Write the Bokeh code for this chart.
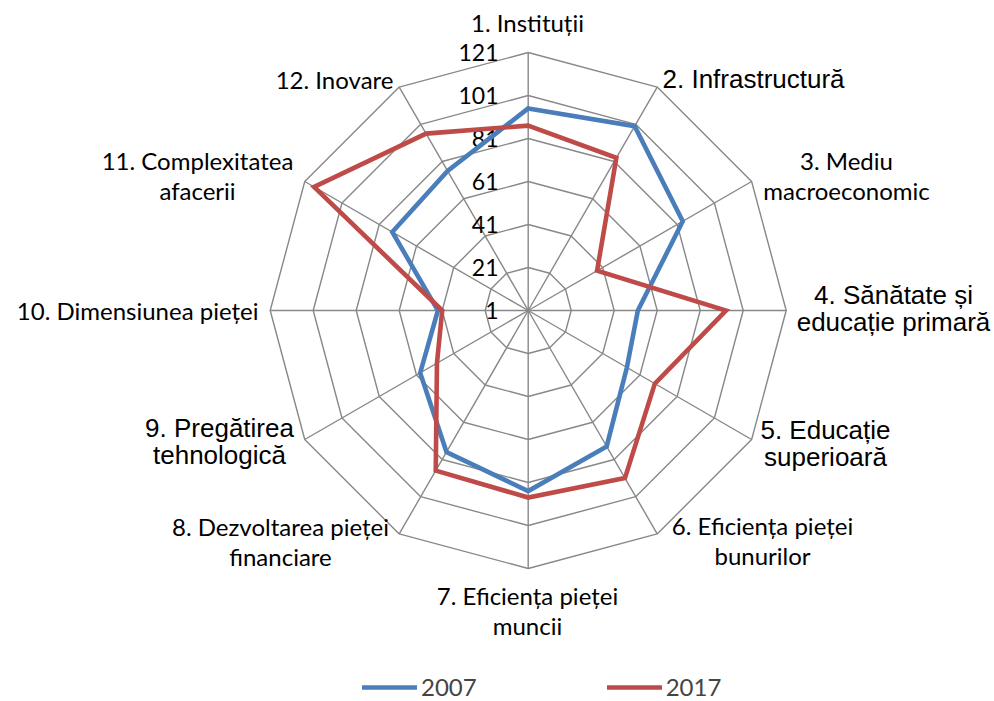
import numpy as np
from bokeh.plotting import figure
from bokeh.models import Range1d, Legend, LegendItem
from bokeh.core.properties import value
from bokeh.embed import file_html
from bokeh.resources import INLINE

# ---------------- data ----------------
categories = [
    "1. Instituții",
    "2. Infrastructură",
    "3. Mediu\nmacroeconomic",
    "4. Sănătate și\neducație primară",
    "5. Educație\nsuperioară",
    "6. Eficiența pieței\nbunurilor",
    "7. Eficiența pieței\nmuncii",
    "8. Dezvoltarea pieței\nfinanciare",
    "9. Pregătirea\ntehnologică",
    "10. Dimensiunea pieței",
    "11. Complexitatea\nafacerii",
    "12. Inovare",
]
values_2007 = [95, 100, 84, 52, 54, 74, 85, 77, 59, 43, 74, 76]
values_2017 = [87, 83, 38, 93, 69, 91, 88, 87, 50, 41, 116, 96]
ring_ticks = [1, 21, 41, 61, 81, 101, 121]
series_names = ["2007", "2017"]

# ---------------- layout constants ----------------
W, H = 994, 701
CX, CY = 527.7, 310.0          # radar centre in page pixels
SCALE = 258.0 / 120.0          # pixels per value unit
R_MIN = ring_ticks[0]
N = len(categories)

BLUE = "#4A7EBB"
RED = "#BE4B48"
GRID = "#888888"
CAL = "Lato"                   # stand-in for Calibri
ARI = "Liberation Sans"        # stand-in for Arial


def px(x, y):
    """page pixel -> data coordinates"""
    return (x - CX) / SCALE, (CY - y) / SCALE


x0, y1 = px(0, 0)
x1, y0 = px(W, H)

p = figure(width=W, height=H, output_backend="svg", toolbar_location=None,
           x_range=Range1d(x0, x1), y_range=Range1d(y0, y1),
           min_border=0, outline_line_color=None)
p.axis.visible = False
p.grid.visible = False
p.background_fill_color = "white"
p.border_fill_color = "white"

theta = np.pi / 2 - np.arange(N) * 2 * np.pi / N
r_max = ring_ticks[-1] - R_MIN

# rings
ring_xs, ring_ys = [], []
for t in ring_ticks[1:]:
    r = t - R_MIN
    ring_xs.append(list(np.r_[r * np.cos(theta), r * np.cos(theta[0])]))
    ring_ys.append(list(np.r_[r * np.sin(theta), r * np.sin(theta[0])]))
p.multi_line(ring_xs, ring_ys, line_color=GRID, line_width=1.4)

# spokes
p.multi_line([[0, r_max * np.cos(t)] for t in theta],
             [[0, r_max * np.sin(t)] for t in theta],
             line_color=GRID, line_width=1.4)

# ring labels
lx, _ = px(498, 0)
p.text(x=[lx] * len(ring_ticks), y=[t - R_MIN for t in ring_ticks],
       text=[str(t) for t in ring_ticks], text_align="right",
       text_baseline="middle", text_font=value(CAL),
       text_font_size="23px", text_color="black")


def series_xy(vals):
    r = np.array(vals, dtype=float) - R_MIN
    xs = r * np.cos(theta)
    ys = r * np.sin(theta)
    return list(np.r_[xs, xs[0]]), list(np.r_[ys, ys[0]])


bx, by = series_xy(values_2007)
rx, ry = series_xy(values_2017)
blue = p.line(bx, by, line_color=BLUE, line_width=4.6, line_join="miter", line_cap="round")
red = p.line(rx, ry, line_color=RED, line_width=4.6, line_join="miter", line_cap="round")

# category labels: (page x, page y, align, font, size, line height)
label_layout = [
    (527, 22, "center", CAL, "24px", 1.0),
    (662, 78, "left", ARI, "26px", 1.0),
    (846, 175, "center", CAL, "24px", 1.05),
    (893, 308, "center", ARI, "26px", 0.93),
    (825, 443, "center", ARI, "26px", 0.93),
    (762, 540, "center", CAL, "24px", 1.05),
    (527, 610, "center", CAL, "24px", 1.04),
    (280, 541, "center", CAL, "24px", 1.02),
    (219, 441, "center", ARI, "26px", 0.88),
    (258, 310, "right", CAL, "24px", 1.0),
    (197, 175, "center", CAL, "24px", 1.05),
    (393, 79, "right", CAL, "24px", 1.0),
]
for cat, (lxp, lyp, al, fnt, fs, lh) in zip(categories, label_layout):
    tx, ty = px(lxp, lyp)
    p.text(x=[tx], y=[ty], text=[cat], text_align=al, text_baseline="middle",
           text_font=value(fnt), text_font_size=fs, text_line_height=lh,
           text_color="black")

legend = Legend(items=[LegendItem(label=series_names[0], renderers=[blue]),
                       LegendItem(label=series_names[1], renderers=[red])],
                orientation="horizontal", location=(362, 0),
                glyph_width=55, glyph_height=20, label_height=20,
                label_standoff=4, spacing=130, padding=0, margin=0,
                border_line_alpha=0, background_fill_alpha=0,
                label_text_font=CAL, label_text_font_size="24px",
                label_text_baseline="middle")
p.add_layout(legend, "center")

open("out.html", "w").write(file_html(p, INLINE))
